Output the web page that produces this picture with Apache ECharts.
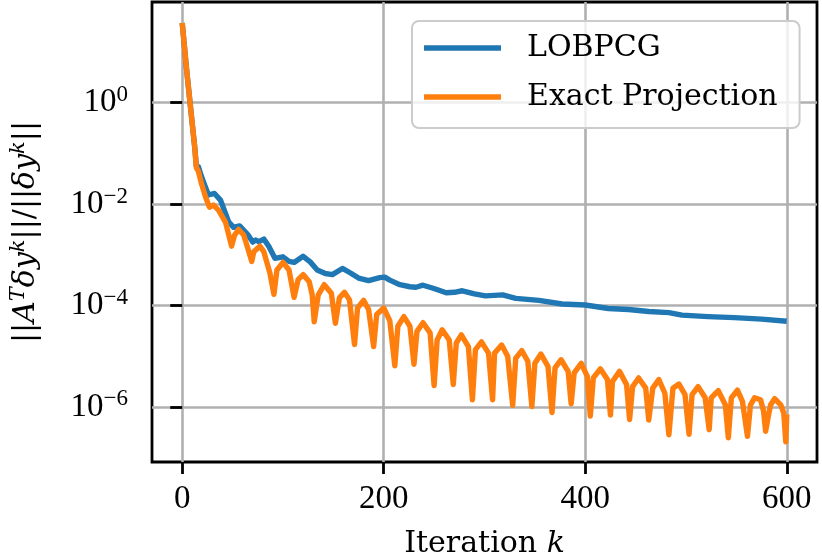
<!DOCTYPE html>
<html>
<head>
<meta charset="utf-8">
<script src="https://cdn.jsdelivr.net/npm/echarts@6/dist/echarts.min.js"></script>
<style>
  html, body { margin: 0; padding: 0; background: #fff; }
  #chart { width: 822px; height: 560px; }
</style>
</head>
<body>
<div id="chart"></div>
<script>
// iteration k and residual ratio
const K_LOBPCG = [0, 4, 7.5, 12.5, 14, 16, 18, 21, 26, 32, 38, 46, 51, 57, 65, 70, 73, 76, 81, 86,
  92, 100, 106, 111, 120, 127, 134, 142, 149, 159, 167, 175, 185, 196, 201, 206, 216, 226, 232, 239,
  249, 262, 270, 278, 290, 301, 318, 331, 354, 377, 400, 423, 443, 463, 483, 496, 522, 548, 575, 600]
const V_LOBPCG = [37.5, 5.25, 1.12, 0.126, 0.0562, 0.055, 0.0407, 0.0275, 0.0151, 0.0162, 0.012, 4.47e-3, 3.47e-3, 3.72e-3, 2.51e-3, 1.78e-3, 1.95e-3, 1.82e-3, 2.04e-3, 1.45e-3,
  8.51e-4, 9.12e-4, 7.41e-4, 7.08e-4, 9.33e-4, 7.24e-4, 5.01e-4, 4.27e-4, 4.07e-4, 5.37e-4, 4.37e-4, 3.47e-4, 3.09e-4, 3.55e-4, 3.63e-4, 3.16e-4, 2.57e-4, 2.34e-4, 2.29e-4, 2.51e-4,
  2.19e-4, 1.78e-4, 1.82e-4, 1.95e-4, 1.7e-4, 1.55e-4, 1.62e-4, 1.38e-4, 1.26e-4, 1.07e-4, 1.02e-4, 8.71e-5, 8.32e-5, 7.59e-5, 7.24e-5, 6.46e-5, 6.03e-5, 5.75e-5, 5.37e-5, 4.9e-5]

const K_EXACT = [0, 4, 7.5, 12.5, 14, 16, 19, 23, 27, 31, 36, 43, 49, 52, 56, 61, 64, 69, 71, 77,
  81, 87, 91, 94, 100, 106, 111, 115, 120, 126, 129, 131, 135, 141, 148, 152, 156, 161, 166, 171,
  174, 180, 185, 190, 193, 200, 206, 211, 214, 220, 226, 230, 233, 239, 246, 250, 253, 258, 265, 269,
  272, 277, 284, 288, 291, 297, 304, 308, 310, 317, 323, 328, 331, 337, 343, 347, 350, 356, 363, 367,
  370, 376, 383, 386, 389, 396, 402, 405, 408, 415, 422, 425, 427, 434, 441, 444, 447, 453, 460, 463,
  467, 473, 479, 483, 487, 493, 499, 503, 506, 512, 519, 523, 525, 532, 539, 542, 545, 551, 556, 561,
  564, 568, 574, 577, 579, 582, 584, 588, 594, 597, 599, 600]
const V_EXACT = [37.5, 5.25, 1.12, 0.126, 0.0525, 0.0447, 0.0257, 0.0141, 8.7e-3, 9.55e-3, 7.59e-3, 4.37e-3, 1.48e-3, 2.45e-3, 3.16e-3, 2.45e-3, 1.58e-3, 7.41e-4, 1.15e-3, 1.48e-3,
  1.15e-3, 4.37e-4, 1.66e-4, 5.01e-4, 7.08e-4, 5.01e-4, 1.45e-4, 3.24e-4, 4.07e-4, 2.95e-4, 1.62e-4, 4.79e-5, 1.62e-4, 2.57e-4, 1.74e-4, 4.47e-5, 1.41e-4, 1.82e-4, 1.29e-4, 1.7e-5,
  8.91e-5, 1.26e-4, 8.32e-5, 1.55e-5, 6.61e-5, 8.91e-5, 5.01e-5, 6.46e-6, 3.89e-5, 6.03e-5, 3.89e-5, 6.92e-6, 3.09e-5, 4.57e-5, 2.88e-5, 2.63e-6, 2.09e-5, 3.31e-5, 2.09e-5, 2.75e-6,
  1.82e-5, 2.63e-5, 1.55e-5, 1.38e-6, 1.35e-5, 1.91e-5, 1.15e-5, 1.38e-6, 1.15e-5, 1.66e-5, 1.0e-5, 1.07e-6, 9.12e-6, 1.29e-5, 7.94e-6, 1.02e-6, 7.24e-6, 1.1e-5, 6.31e-6, 7.76e-7,
  5.89e-6, 8.51e-6, 5.01e-6, 1.15e-6, 4.68e-6, 7.24e-6, 3.98e-6, 6.61e-7, 3.72e-6, 5.62e-6, 3.47e-6, 6.92e-7, 3.16e-6, 5.01e-6, 2.75e-6, 5.62e-7, 2.51e-6, 3.72e-6, 2.34e-6, 5.5e-7,
  2.34e-6, 3.47e-6, 1.86e-6, 2.82e-7, 2.34e-6, 2.82e-6, 1.74e-6, 2.88e-7, 1.74e-6, 2.51e-6, 1.51e-6, 3.55e-7, 1.51e-6, 2.09e-6, 1.1e-6, 2.45e-7, 1.51e-6, 2.14e-6, 1.29e-6, 2.63e-7,
  1.1e-6, 1.51e-6, 1.38e-6, 8.13e-7, 3.31e-7, 7.08e-7, 1.1e-6, 1.45e-6, 1.1e-6, 7.59e-7, 2.04e-7, 7.08e-7]

const X_TICKS = [0, 200, 400, 600]
const Y_TICKS = [1e-6, 1e-4, 1e-2, 1]

const TICK_FONT = 'Liberation Serif'
const TEXT_FONT = 'DejaVu Serif'
const LINE_W = 5.4

const pairs = (ks, vs) => ks.map((k, i) => [k, vs[i]])

const option = {
  animation: false,
  grid: {
    left: 152, top: 2, right: 5, bottom: 98,
    outerBoundsMode: 'none', containLabel: false,
    show: true, borderColor: '#000', borderWidth: 2.8
  },
  legend: {
    orient: 'vertical',
    left: 412, top: 21,
    padding: [12, 22, 16, 12],
    itemGap: 19,
    icon: 'rect',
    itemWidth: 77, itemHeight: LINE_W,
    backgroundColor: 'rgba(255,255,255,0.8)',
    borderColor: '#cccccc', borderWidth: 2, borderRadius: 7,
    textStyle: { fontFamily: TEXT_FONT, fontSize: 30, color: '#000', padding: [0, 0, 0, 21] },
    data: ['LOBPCG', 'Exact Projection']
  },
  xAxis: {
    type: 'value', min: -30, max: 630, splitNumber: 3,
    axisLine: { show: false },
    axisTick: { show: true, length: 12, customValues: X_TICKS, lineStyle: { color: '#000', width: 2.8 } },
    axisLabel: { customValues: X_TICKS, margin: 21, color: '#000', fontFamily: TICK_FONT, fontSize: 33 },
    splitLine: { show: true, customValues: X_TICKS, lineStyle: { color: '#b0b0b0', width: 2.6 } },
    name: 'Iteration {i|k}',
    nameLocation: 'middle', nameGap: 67,
    nameTextStyle: {
      fontFamily: TEXT_FONT, fontSize: 30, color: '#000',
      rich: { i: { fontFamily: TEXT_FONT, fontSize: 30, fontStyle: 'italic', color: '#000' } }
    }
  },
  yAxis: {
    type: 'log', logBase: 10, min: 8.18e-8, max: 96.8,
    axisLine: { show: false },
    axisTick: { show: true, length: 12, customValues: Y_TICKS, lineStyle: { color: '#000', width: 2.8 } },
    minorTick: { show: false },
    axisLabel: {
      customValues: Y_TICKS, margin: 24, color: '#000', fontFamily: TICK_FONT, fontSize: 33,
      formatter: v => '10{sup|' + String(Math.round(Math.log10(v))).replace('-', '\u2212') + '}',
      rich: { sup: { fontFamily: TICK_FONT, fontSize: 23, color: '#000', padding: [0, 0, 15, 0] } }
    },
    splitLine: { show: true, customValues: Y_TICKS, lineStyle: { color: '#b0b0b0', width: 2.6 } },
    name: '||{i|A}{sup|T}{i|\u03b4y}{sup|k}||/||{i|\u03b4y}{sup|k}||',
    nameLocation: 'middle', nameGap: 108,
    nameTextStyle: {
      fontFamily: TEXT_FONT, fontSize: 30, color: '#000',
      rich: {
        i: { fontFamily: TEXT_FONT, fontSize: 30, fontStyle: 'italic', color: '#000' },
        sup: { fontFamily: TEXT_FONT, fontSize: 21, fontStyle: 'italic', color: '#000', padding: [0, 0, 15, 0] }
      }
    }
  },
  series: [
    {
      name: 'LOBPCG', type: 'line', symbol: 'none',
      data: pairs(K_LOBPCG, V_LOBPCG),
      lineStyle: { color: '#1f77b4', width: LINE_W, join: 'round' },
      itemStyle: { color: '#1f77b4' }
    },
    {
      name: 'Exact Projection', type: 'line', symbol: 'none',
      data: pairs(K_EXACT, V_EXACT),
      lineStyle: { color: '#ff7f0e', width: LINE_W, join: 'round' },
      itemStyle: { color: '#ff7f0e' }
    }
  ]
}

const chart = echarts.init(document.getElementById('chart'))
chart.setOption(option)
</script>
</body>
</html>
